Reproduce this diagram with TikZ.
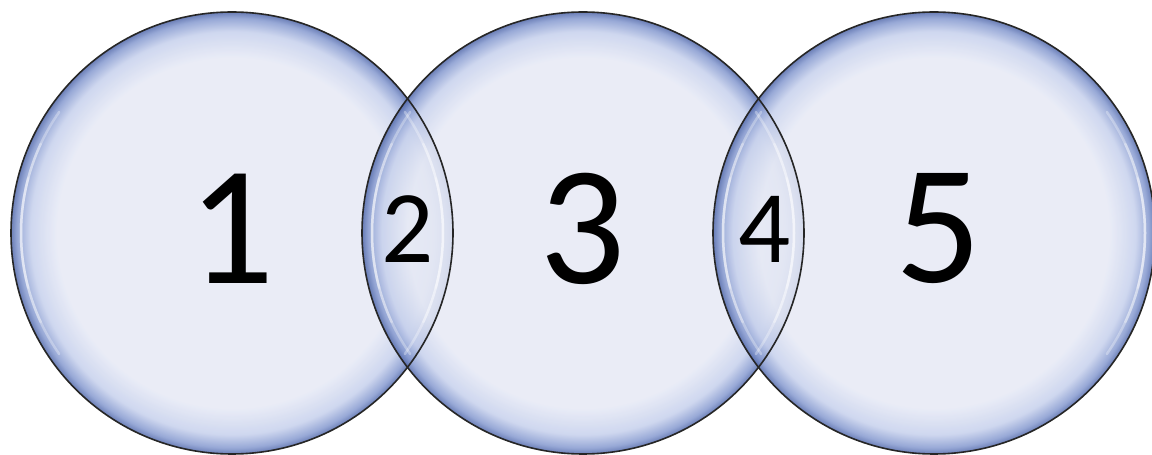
\documentclass[tikz,border=0pt]{standalone}
\usepackage{fontspec}
\setmainfont{Carlito}
\usetikzlibrary{positioning, calc}
\definecolor{bubblein}{HTML}{E6E9F5}
\definecolor{bubblemid}{HTML}{C6D0EC}
\definecolor{bubblerim}{HTML}{8599CF}
\definecolor{bubbleedge}{HTML}{5168AA}
\pgfdeclareradialshading{bubble}{\pgfpoint{0bp}{0bp}}{%
  color(0bp)=(bubblein); color(19.8bp)=(bubblein); color(22.8bp)=(bubblemid);
  color(24.3bp)=(bubblerim); color(25bp)=(bubbleedge); color(50bp)=(bubbleedge)}

\begin{document}
\begin{tikzpicture}[
    x=1pt, y=1pt,
    node distance=351pt,
    bub/.style={circle, minimum size=442pt, inner sep=0pt, outer sep=0pt,
        shading=bubble, fill opacity=0.85},
    rim/.style={draw=black!85, line width=1.6pt},
    glint/.style={white, line width=2.5pt, line cap=round, opacity=0.3},
    big/.style={font=\fontsize{170}{170}\selectfont, inner sep=0pt, yshift=4pt},
    small/.style={font=\fontsize{103}{103}\selectfont, inner sep=0pt, yshift=4pt}
]
\useasboundingbox (0,0) rectangle (1152,455);
\node[bub] (A) at (232,222) {};
\node[bub, right of=A] (B) {};
\node[bub, right of=B] (C) {};

\foreach \n in {A,B,C} {
  \draw[rim] (\n.center) circle[radius=221pt];
  % soft highlights, stacked to fade at the ends
  \foreach \w in {35,25,15} {
    \draw[glint] ($(\n.center)+(180-\w:211pt)$) arc[start angle=180-\w, end angle=180+\w, radius=211pt];
    \draw[glint] ($(\n.center)+(-\w:211pt)$) arc[start angle=-\w, end angle=\w, radius=211pt];
  }
}

\node[big] (n1) at (A) {1};
\node[big] (n3) at (B) {3};
\node[big, xshift=5pt] (n5) at (C) {5};
\node[small] (n2) at ($(A)!0.5!(B)$) {2};
\node[small, xshift=6pt] (n4) at ($(B)!0.5!(C)$) {4};
\end{tikzpicture}
\end{document}
